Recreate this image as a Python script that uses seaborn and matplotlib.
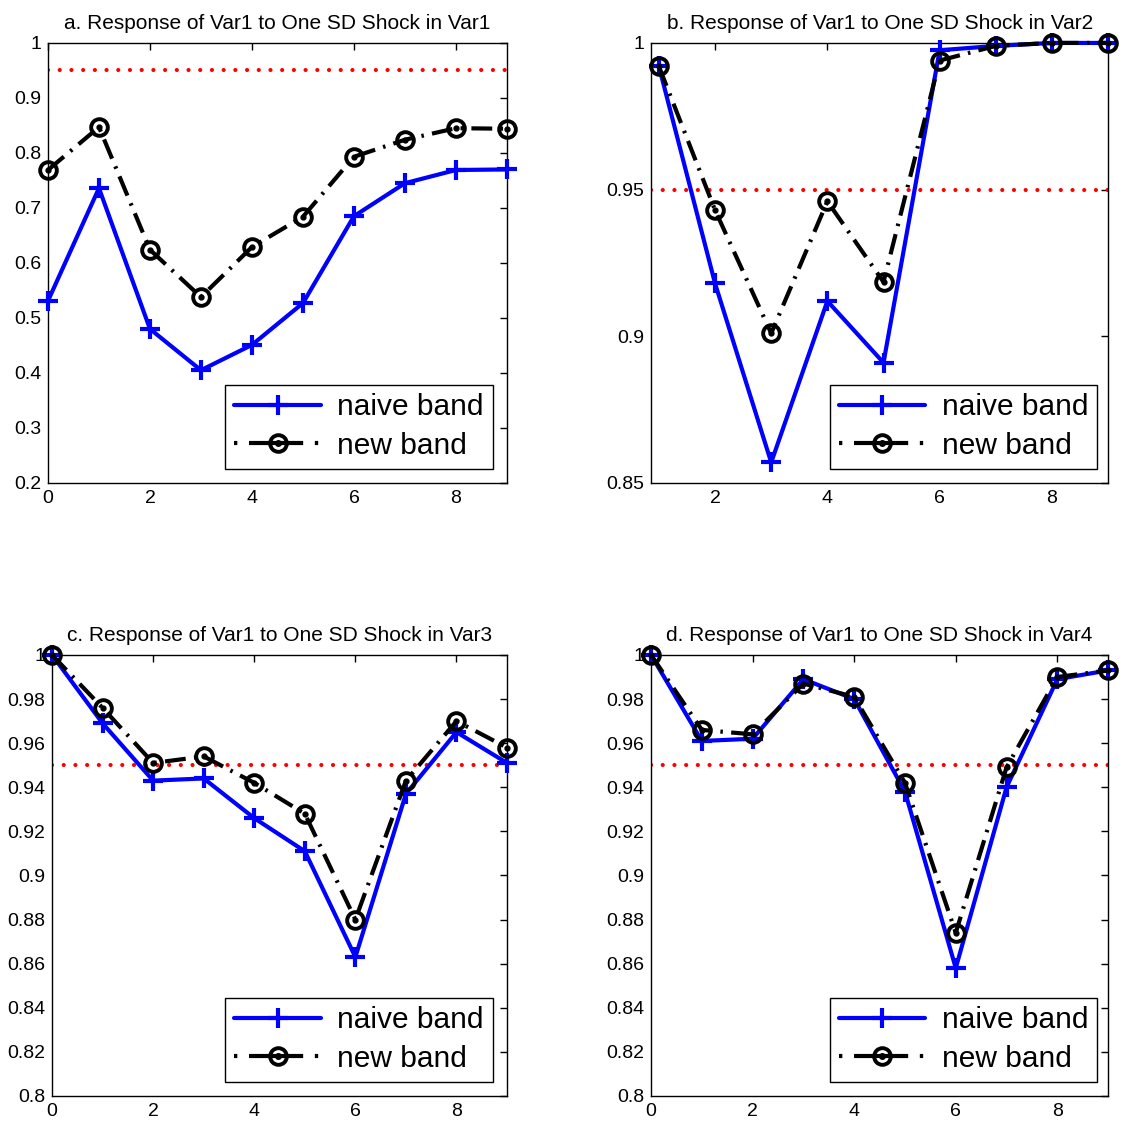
import numpy as np
import pandas as pd
import seaborn as sns
import matplotlib.pyplot as plt
from matplotlib.ticker import FuncFormatter
from matplotlib.legend_handler import HandlerTuple

# ------------------------------------------
# data
# ------------------------------------------
horizon = [0, 1, 2, 3, 4, 5, 6, 7, 8, 9]
horizon_b = [1, 2, 3, 4, 5, 6, 7, 8, 9]

naive_a = [0.531, 0.736, 0.480, 0.405, 0.451, 0.527, 0.685, 0.745, 0.769, 0.770]
new_a = [0.769, 0.847, 0.624, 0.538, 0.629, 0.684, 0.793, 0.824, 0.845, 0.844]

naive_b = [0.992, 0.918, 0.857, 0.912, 0.891, 0.9975, 0.999, 1.000, 1.000]
new_b = [0.992, 0.943, 0.901, 0.946, 0.9185, 0.994, 0.999, 1.000, 1.000]

naive_c = [1.000, 0.969, 0.943, 0.944, 0.926, 0.911, 0.863, 0.937, 0.965, 0.951]
new_c = [1.000, 0.976, 0.951, 0.954, 0.942, 0.928, 0.880, 0.943, 0.970, 0.958]

naive_d = [1.000, 0.961, 0.962, 0.989, 0.980, 0.938, 0.858, 0.940, 0.989, 0.993]
new_d = [1.000, 0.966, 0.964, 0.987, 0.981, 0.942, 0.874, 0.949, 0.990, 0.993]

titles = [
    "a. Response of Var1 to One SD Shock in Var1",
    "b. Response of Var1 to One SD Shock in Var2",
    "c. Response of Var1 to One SD Shock in Var3",
    "d. Response of Var1 to One SD Shock in Var4",
]
nominal = 0.95

panels = [
    (horizon, naive_a, new_a, (0, 9), (0.2, 1.0), np.arange(0.2, 1.01, 0.1), [0, 2, 4, 6, 8]),
    (horizon_b, naive_b, new_b, (0.86, 9), (0.85, 1.0), [0.85, 0.9, 0.95, 1.0], [2, 4, 6, 8]),
    (horizon, naive_c, new_c, (0, 9), (0.8, 1.0), np.arange(0.8, 1.001, 0.02), [0, 2, 4, 6, 8]),
    (horizon, naive_d, new_d, (0, 9), (0.8, 1.0), np.arange(0.8, 1.001, 0.02), [0, 2, 4, 6, 8]),
]

# axes rectangles [left, bottom, width, height] in figure fraction
rects = [
    [0.0426, 0.5726, 0.4076, 0.3894],
    [0.5782, 0.5726, 0.4059, 0.3894],
    [0.0462, 0.0301, 0.4041, 0.3903],
    [0.5782, 0.0301, 0.4059, 0.3903],
]
legend_anchor = [(0.969, 0.032), (0.976, 0.032), (0.969, 0.032), (0.976, 0.032)]

sns.set_style("white")
plt.rcParams['font.family'] = ['Liberation Sans', 'DejaVu Sans']
plt.rcParams['text.color'] = 'black'
plt.rcParams['xtick.color'] = 'black'
plt.rcParams['ytick.color'] = 'black'

fig = plt.figure(figsize=(11.26, 11.30), dpi=100)

dashdot = (0, (5, 2, 0.6, 2))
dashdot_legend = (0, (0.8, 2.8, 13, 2.8, 0.8, 10))

for i, (x, naive, new, xlim, ylim, yticks, xticks) in enumerate(panels):
    ax = fig.add_axes(rects[i])
    df = pd.DataFrame({"h": x, "naive": naive, "new": new})

    ax.axhline(nominal, color="red", lw=3.0, linestyle=(0, (0.01, 2.8)),
               dash_capstyle="round", zorder=1)

    sns.lineplot(data=df, x="h", y="naive", ax=ax, color="blue", lw=3,
                 marker="+", markersize=15, mew=3, markeredgecolor="blue",
                 clip_on=False, zorder=3)
    sns.lineplot(data=df, x="h", y="new", ax=ax, color="black", lw=3,
                 linestyle=dashdot, marker="o", markersize=12, mew=2.8,
                 markerfacecolor="none", markeredgecolor="black",
                 clip_on=False, zorder=4)
    ax.plot(df["h"], df["new"], ls="none", marker="o", ms=3.5,
            color="black", clip_on=False, zorder=5)

    ax.set_xlim(*xlim)
    ax.set_ylim(*ylim)
    ax.set_xticks(xticks)
    ax.set_yticks(yticks)
    ax.yaxis.set_major_formatter(FuncFormatter(lambda v, p: "%g" % round(v, 4)))
    ax.set_xlabel("")
    ax.set_ylabel("")
    ax.tick_params(direction="in", top=True, right=True, length=5, width=1,
                   labelsize=14, pad=5, color="black", labelcolor="black")
    for s in ax.spines.values():
        s.set_color("black")
        s.set_linewidth(1)
    ax.set_title(titles[i], fontsize=15, pad=10, color="black")

    h_naive = plt.Line2D([], [], color="blue", lw=3, marker="+", ms=15, mew=3)
    h_new = plt.Line2D([], [], color="black", lw=3, linestyle=dashdot_legend,
                       marker="o", ms=12, mew=2.8, markerfacecolor="none")
    h_dot = plt.Line2D([], [], ls="none", marker="o", ms=4, color="black")
    leg = ax.legend([h_naive, (h_new, h_dot)], ["naive band", "new band"],
                    loc="lower right", bbox_to_anchor=legend_anchor[i],
                    borderaxespad=0, fontsize=21.5, handlelength=2.9,
                    handletextpad=0.55, labelspacing=0.35, borderpad=0.3,
                    fancybox=False, framealpha=1, edgecolor="black",
                    numpoints=1,
                    handler_map={tuple: HandlerTuple(ndivide=1, pad=0)})
    leg.get_frame().set_linewidth(1)
    for t in leg.get_texts():
        t.set_color("black")

fig.savefig("out.png", dpi=100)
